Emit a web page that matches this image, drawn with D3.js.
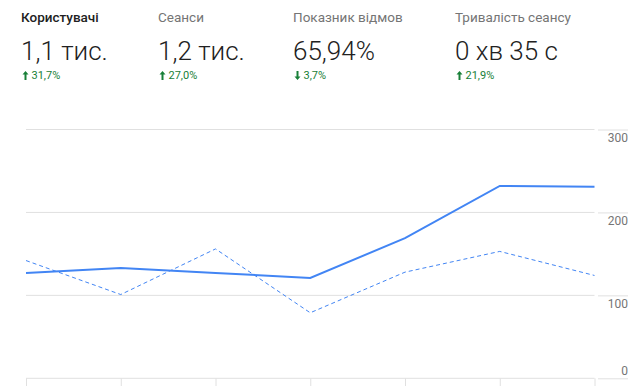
<!DOCTYPE html>
<html>
<head>
<meta charset="utf-8">
<script src="https://cdn.jsdelivr.net/npm/d3@7"></script>
<style>
  body { margin: 0; background: #fff; }
  svg { display: block; font-family: Roboto, "Noto Sans", sans-serif; }
</style>
</head>
<body>
<svg id="chart"></svg>
<script>
// metric cards
const metricNames = ["Користувачі", "Сеанси", "Показник відмов", "Тривалість сеансу"];
const metricValues = ["1,1 тис.", "1,2 тис.", "65,94%", "0 хв 35 с"];
const metricChanges = ["31,7%", "27,0%", "3,7%", "21,9%"];
const metricUp = [true, true, false, true];

// chart data
const days = ["14", "15", "16", "17", "18", "19", "20"];
const usersCurrent = [127, 133, 127, 121, 169, 232, 231];
const usersPrevious = [142, 101, 156, 79, 128, 153, 124];
const yTicks = [0, 100, 200, 300];

const width = 642;
const height = 386;

const svg = d3.select("#chart")
    .attr("width", width)
    .attr("height", height);

// header cards
const colX = [21, 158, 293, 455];
const cards = svg.selectAll(".card")
    .data(metricNames)
    .enter().append("g")
    .attr("class", "card")
    .attr("transform", (d, i) => `translate(${colX[i]},0)`);

cards.append("text")
    .attr("y", 22)
    .style("font-size", "13.5px")
    .style("font-weight", (d, i) => i === 0 ? 500 : 400)
    .attr("fill", (d, i) => i === 0 ? "#212121" : "#757575")
    .text(d => d);

cards.append("text")
    .attr("y", 60)
    .style("font-size", "26px")
    .style("font-weight", 300)
    .attr("fill", "#212121")
    .text((d, i) => metricValues[i]);

// small arrow icon + change text
const change = cards.append("g")
    .attr("fill", "#188038");

change.append("path")
    .attr("transform", (d, i) => `translate(4.5,75.5) rotate(${metricUp[i] ? 0 : 180})`)
    .attr("d", "M0,-4.5 L3,-1 L1,-1 L1,4.5 L-1,4.5 L-1,-1 L-3,-1 Z");

change.append("text")
    .attr("x", 10.5)
    .attr("y", 79)
    .style("font-size", "11px")
    .text((d, i) => metricChanges[i]);

// scales
const x = d3.scalePoint()
    .domain(days)
    .range([26, 594.5]);

const y = d3.scaleLinear()
    .domain([0, 300])
    .range([378.3, 129.5]);

// gridlines
svg.append("g")
    .selectAll("line")
    .data(yTicks)
    .enter().append("line")
    .attr("x1", 26)
    .attr("x2", 594.5)
    .attr("y1", d => y(d))
    .attr("y2", d => y(d))
    .attr("stroke", "#e0e0e0")
    .attr("stroke-width", 1);

// right axis
const yAxis = svg.append("g")
    .attr("transform", "translate(598,0)")
    .call(d3.axisRight(y).tickValues(yTicks).tickSize(30).tickFormat(d3.format("d")));
yAxis.select(".domain").remove();
yAxis.selectAll(".tick line").attr("stroke", "#e0e0e0");
yAxis.selectAll(".tick text")
    .attr("x", 30)
    .attr("dy", d => d === 0 ? "-4px" : "12px")
    .attr("text-anchor", "end")
    .attr("fill", "#757575")
    .style("font-family", "Roboto, sans-serif")
    .style("font-size", "12px");

// bottom axis (labels mostly fall below the visible area)
const xAxis = svg.append("g")
    .attr("transform", `translate(0,${y(0)})`)
    .call(d3.axisBottom(x).tickSize(9).tickPadding(-1));
xAxis.select(".domain").remove();
xAxis.selectAll(".tick line").attr("stroke", "#e0e0e0");
xAxis.selectAll(".tick text")
    .attr("fill", "#9e9e9e")
    .style("font-family", "Roboto, sans-serif")
    .style("font-size", "12px")
    .attr("text-anchor", (d, i) => i === 0 ? "start" : (i === days.length - 1 ? "end" : "middle"));

// lines
const line = d3.line()
    .x((d, i) => x(days[i]))
    .y(d => y(d));

svg.append("path")
    .datum(usersPrevious)
    .attr("fill", "none")
    .attr("stroke", "#4285f4")
    .attr("stroke-width", 1)
    .attr("stroke-dasharray", "4,3")
    .attr("d", line);

svg.append("path")
    .datum(usersCurrent)
    .attr("fill", "none")
    .attr("stroke", "#4285f4")
    .attr("stroke-width", 2)
    .attr("d", line);
</script>
</body>
</html>
